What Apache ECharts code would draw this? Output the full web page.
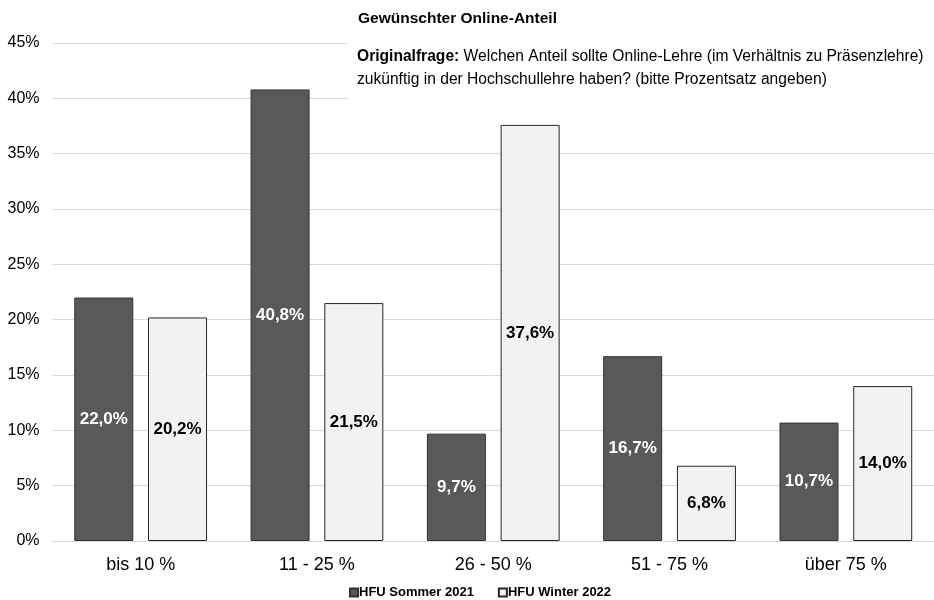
<!DOCTYPE html>
<html><head><meta charset="utf-8">
<script src="https://cdn.jsdelivr.net/npm/echarts@6/dist/echarts.min.js"></script>
<style>html,body{margin:0;padding:0;background:#fff}#c{width:934px;height:600px}</style>
</head><body><div id="c"></div>
<script>
const categories = ['bis 10 %', '11 - 25 %', '26 - 50 %', '51 - 75 %', 'über 75 %'];
const seriesNames = ['HFU Sommer 2021', 'HFU Winter 2022'];
const sommer2021 = [22.0, 40.8, 9.7, 16.7, 10.7];
const winter2022 = [20.2, 21.5, 37.6, 6.8, 14.0];
const yTicks = [0, 5, 10, 15, 20, 25, 30, 35, 40, 45];

const FF = 'Liberation Sans, Arial, sans-serif';
const fmt = v => v.toFixed(1).replace('.', ',') + '%';
const chart = echarts.init(document.getElementById('c'));
chart.setOption({
  animation: false,
  textStyle: { fontFamily: FF },
  title: {
    text: 'Gewünschter Online-Anteil',
    left: 353, top: 6,
    textStyle: { fontSize: 15.5, fontWeight: 'bold', color: '#000', fontFamily: FF }
  },
  graphic: [
    { type: 'rect', z: 100, shape: { x: 348, y: 38, width: 586, height: 65 }, style: { fill: '#fff' } },
    {
      type: 'text', z: 101, left: 357, top: 49,
      style: {
        rich: {
          b: { fontWeight: 'bold', fontSize: 15.6, fill: '#000', fontFamily: FF, lineHeight: 23 },
          n: { fontSize: 15.6, fill: '#000', fontFamily: FF, lineHeight: 23 }
        },
        text: '{b|Originalfrage:}{n| Welchen Anteil sollte Online-Lehre (im Verhältnis zu Präsenzlehre)}\n{n|zukünftig in der Hochschullehre haben? (bitte Prozentsatz angeben)}'
      }
    }
  ],
  legend: {
    top: 581, left: 344,
    itemWidth: 8, itemHeight: 8, itemGap: 24,
    icon: 'rect',
    data: seriesNames,
    textStyle: { fontSize: 13, fontWeight: 'bold', color: '#000', padding: [0, 0, 0, -4] }
  },
  grid: { left: 52.5, right: -5, top: 43, bottom: 59 },
  xAxis: {
    type: 'category', data: categories,
    axisTick: { show: false },
    axisLine: { lineStyle: { color: '#d9d9d9' } },
    axisLabel: { fontSize: 18, color: '#000', margin: 15 }
  },
  yAxis: {
    type: 'value', min: yTicks[0], max: yTicks[yTicks.length - 1], interval: 5,
    axisLabel: { formatter: '{value}%', fontSize: 16, color: '#000', margin: 13 },
    splitLine: { lineStyle: { color: '#d9d9d9' } }
  },
  series: [
    {
      name: seriesNames[0], type: 'bar', data: sommer2021,
      barWidth: 59, barGap: '25%',
      itemStyle: { color: '#595959', borderColor: '#333', borderWidth: 1 },
      label: { show: true, position: 'inside', formatter: p => fmt(p.value), color: '#fff', fontSize: 17, fontWeight: 'bold' }
    },
    {
      name: seriesNames[1], type: 'bar', data: winter2022,
      barWidth: 59,
      itemStyle: { color: '#f2f2f2', borderColor: '#262626', borderWidth: 1 },
      label: { show: true, position: 'inside', formatter: p => fmt(p.value), color: '#000', fontSize: 17, fontWeight: 'bold' }
    }
  ]
});
</script></body></html>
